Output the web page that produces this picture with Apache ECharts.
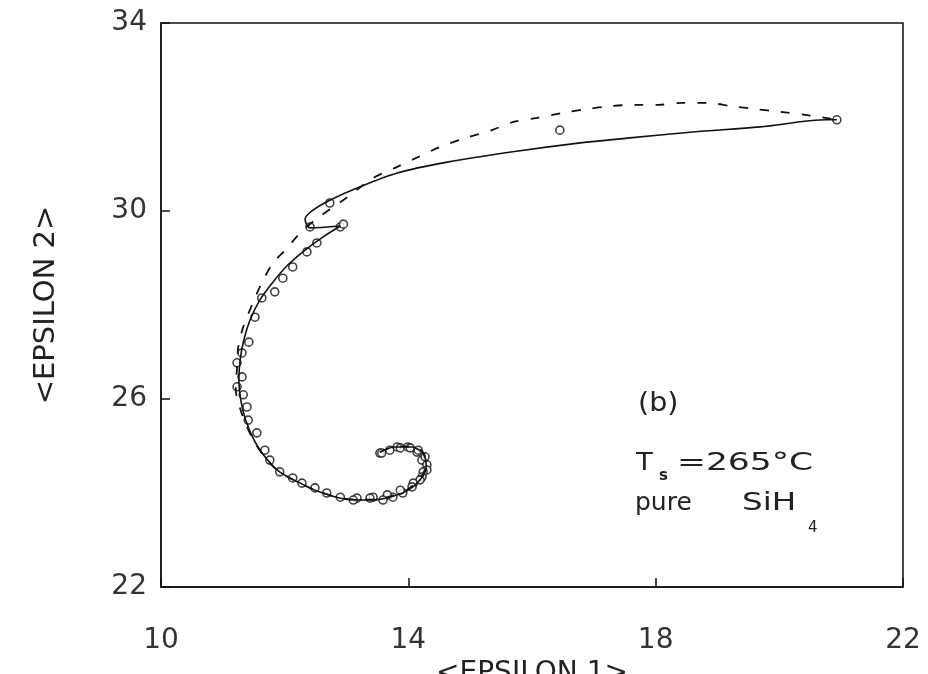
<!DOCTYPE html>
<html>
<head>
<meta charset="utf-8">
<script src="https://cdn.jsdelivr.net/npm/echarts@6/dist/echarts.min.js"></script>
<style>
  html, body { margin: 0; padding: 0; background: #fff; }
  #chart { width: 928px; height: 674px; }
</style>
</head>
<body>
<div id="chart"></div>
<script>
// measured points (open circles), <EPSILON 1> / <EPSILON 2>
const pointE1 = [13.54, 13.57, 13.70, 13.82, 13.87, 13.99, 14.03, 14.14, 14.16, 14.22, 14.27, 14.30, 14.30, 14.24, 14.22,
  14.19, 14.08, 14.06, 13.91, 13.87, 13.75, 13.66, 13.59, 13.43, 13.38, 13.17, 13.11, 12.90, 12.68, 12.49,
  12.28, 12.13, 11.92, 11.76, 11.68, 11.55, 11.41, 11.39, 11.33, 11.23, 11.31, 11.23, 11.31, 11.42, 11.52,
  11.63, 11.84, 11.97, 12.13, 12.36, 12.52, 12.90, 12.95, 12.41, 12.73, 16.45, 20.93];
const pointE2 = [24.85, 24.85, 24.91, 24.98, 24.96, 24.98, 24.96, 24.87, 24.91, 24.70, 24.77, 24.60, 24.49, 24.45, 24.34,
  24.28, 24.21, 24.13, 24.00, 24.06, 23.91, 23.96, 23.85, 23.91, 23.89, 23.89, 23.85, 23.91, 24.00, 24.11,
  24.21, 24.32, 24.45, 24.70, 24.91, 25.28, 25.55, 25.83, 26.09, 26.26, 26.47, 26.77, 26.98, 27.21, 27.74,
  28.15, 28.28, 28.57, 28.81, 29.13, 29.32, 29.66, 29.72, 29.66, 30.17, 31.72, 31.94];

// solid model curve
const solidE1 = [13.54, 13.78, 14.06, 14.25, 14.29, 14.19, 14.00, 13.70, 13.38, 12.98, 12.57, 12.25, 11.92, 11.70,
  11.52, 11.37, 11.29, 11.26, 11.28, 11.34, 11.44, 11.60, 11.80, 12.05, 12.33, 12.60, 12.90, 12.41, 12.33,
  12.46, 12.73, 13.17, 13.82, 14.63, 15.69, 16.78, 17.54, 18.60, 19.69, 20.77, 20.93];
const solidE2 = [24.87, 24.98, 24.98, 24.81, 24.55, 24.28, 24.06, 23.91, 23.85, 23.87, 24.02, 24.21, 24.45, 24.74,
  25.09, 25.55, 25.98, 26.40, 26.83, 27.26, 27.68, 28.11, 28.47, 28.85, 29.17, 29.43, 29.68, 29.64, 29.83,
  30.02, 30.23, 30.49, 30.81, 31.04, 31.26, 31.45, 31.55, 31.68, 31.79, 31.94, 31.94];

// dashed model curve
const dashE1 = [13.54, 13.80, 14.08, 14.26, 14.28, 14.17, 13.98, 13.68, 13.36, 12.96, 12.55, 12.23, 11.90, 11.68,
  11.50, 11.36, 11.28, 11.21, 11.23, 11.25, 11.33, 11.49, 11.63, 11.81, 12.01, 12.25, 12.49, 13.02, 13.43,
  13.82, 14.16, 14.51, 14.92, 15.35, 15.69, 16.08, 16.50, 16.89, 17.26, 17.67, 18.04, 18.44, 18.83, 19.23,
  19.61, 20.01, 20.45, 20.93];
const dashE2 = [24.87, 24.99, 24.99, 24.82, 24.56, 24.29, 24.07, 23.92, 23.86, 23.88, 24.03, 24.22, 24.46, 24.76,
  25.11, 25.50, 25.80, 26.19, 26.68, 27.11, 27.53, 28.06, 28.47, 28.89, 29.17, 29.53, 29.81, 30.30, 30.70,
  30.94, 31.15, 31.36, 31.55, 31.72, 31.89, 31.98, 32.09, 32.17, 32.23, 32.26, 32.26, 32.30, 32.30, 32.23,
  32.17, 32.11, 32.04, 31.94];

const zip = (a, b) => a.map((v, i) => [v, b[i]]);

const chart = echarts.init(document.getElementById('chart'));
const textColor = '#222';

// annotation pieces, stretched a bit wider like the plotter lettering
function label(text, x, y, size, sx, weight) {
  return {
    type: 'text', x: x, y: y, scaleX: sx || 1,
    style: { text: text, font: (weight || 'normal') + ' ' + size + 'px "DejaVu Sans"', fill: textColor, verticalAlign: 'top' }
  };
}

chart.setOption({
  animation: false,
  grid: {
    left: 161, right: 25, top: 23, bottom: 87,
    outerBoundsMode: 'none',
    show: true, borderColor: '#111', borderWidth: 1.5, backgroundColor: 'transparent'
  },
  xAxis: {
    type: 'value', min: 10, max: 22, interval: 4,
    name: '<EPSILON 1>', nameLocation: 'middle', nameGap: 64,
    nameTextStyle: { fontFamily: 'DejaVu Sans', fontSize: 28, color: textColor },
    axisLine: { lineStyle: { color: '#111', width: 1.5 } },
    axisTick: { inside: true, length: 9, lineStyle: { color: '#111', width: 1.5 } },
    axisLabel: { margin: 40, fontFamily: 'DejaVu Sans', fontSize: 28, color: '#333' },
    splitLine: { show: false }
  },
  yAxis: {
    type: 'value', min: 22, max: 34, interval: 4,
    name: '<EPSILON 2>', nameLocation: 'middle', nameGap: 100,
    nameTextStyle: { fontFamily: 'DejaVu Sans', fontSize: 29, color: textColor },
    axisLine: { lineStyle: { color: '#111', width: 1.5 } },
    axisTick: { inside: true, length: 9, lineStyle: { color: '#111', width: 1.5 } },
    axisLabel: { margin: 14, fontFamily: 'DejaVu Sans', fontSize: 28, color: '#333' },
    splitLine: { show: false }
  },
  series: [
    {
      type: 'line', data: zip(dashE1, dashE2), showSymbol: false, smooth: 0.3,
      lineStyle: { color: '#111', width: 1.8, type: [9, 12] }
    },
    {
      type: 'line', data: zip(solidE1, solidE2), showSymbol: false, smooth: 0.3,
      lineStyle: { color: '#111', width: 1.6 }
    },
    {
      type: 'scatter', data: zip(pointE1, pointE2), symbol: 'circle', symbolSize: 8,
      itemStyle: { color: '#fff', borderColor: '#111', borderWidth: 1.6 }
    }
  ],
  graphic: [
    label('(b)', 638, 391, 26, 1.1),
    label('T', 636, 451, 25, 1.1),
    label('s', 659, 469, 15, 1, 'bold'),
    label('=265°C', 677, 451, 25, 1.38),
    label('pure', 635, 491, 25, 1),
    label('SiH', 742, 491, 25, 1.3),
    label('4', 808, 521, 15, 1)
  ]
});
</script>
</body>
</html>
